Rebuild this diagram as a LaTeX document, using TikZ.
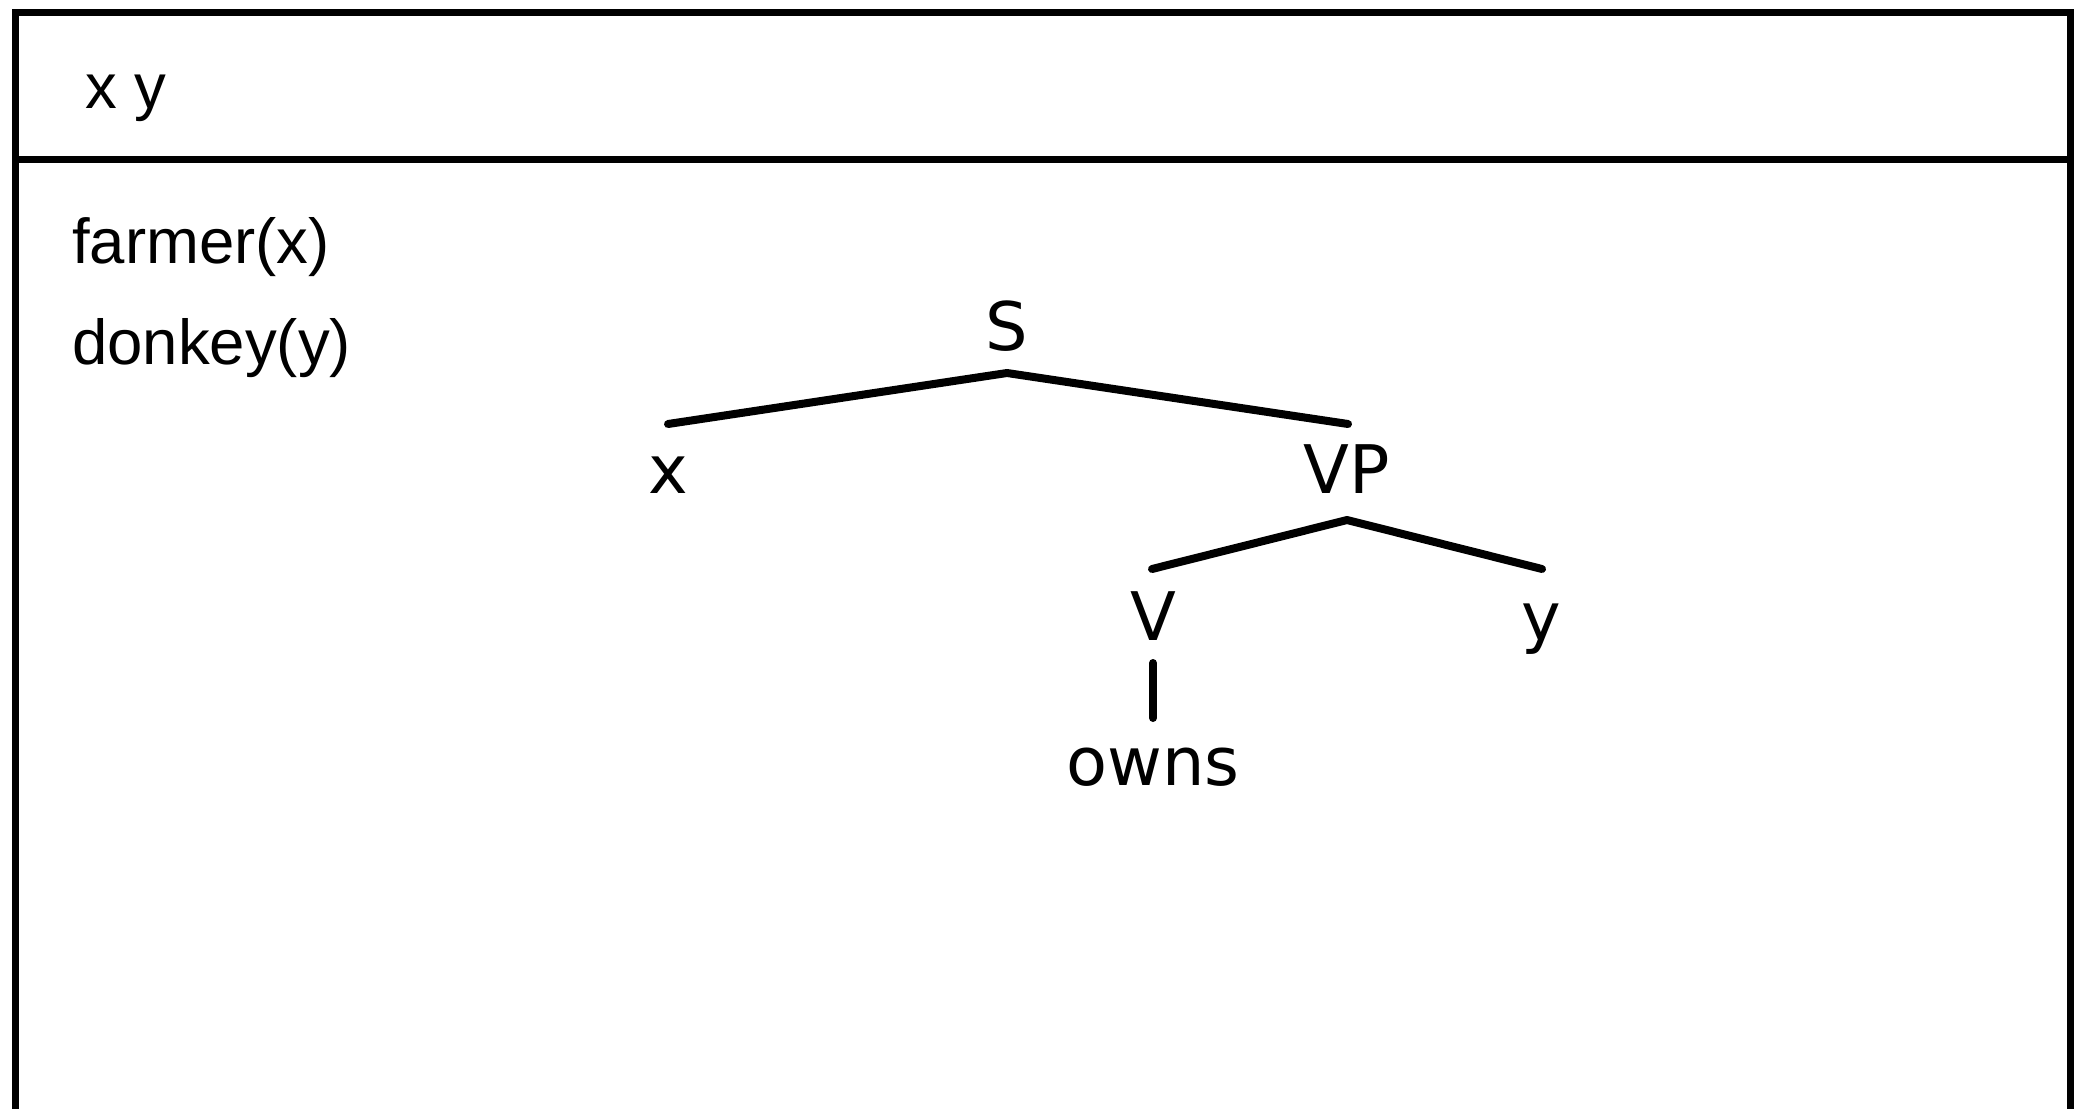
\documentclass[tikz,border=0pt]{standalone}
\usepackage{fontspec}
\setmainfont{Liberation Sans}
\newfontfamily\treefont{DejaVu Sans}
\begin{document}
\begin{tikzpicture}[x=1pt,y=-1pt,
  drstext/.style={inner sep=0pt,anchor=base west,font=\fontsize{63.5}{70}\selectfont},
  treelabel/.style={inner sep=0pt,anchor=base,font=\treefont\fontsize{67}{75}\selectfont},
  branch/.style={line width=8pt,line cap=round,line join=round},
  frame/.style={line width=7pt}]
\useasboundingbox (0,0) rectangle (2074,1108);
\clip (0,0) rectangle (2074,1108);
% DRS box
\draw[frame] (15,1130) -- (15,12.5) -- (2070.5,12.5) -- (2070.5,1130);
\draw[frame] (15,159) -- (2070.5,159);
% DRS contents
\node[drstext] (refs) at (85,108) {x y};
\node[drstext] (cond1) at (72,263) {farmer(x)};
\node[drstext] (cond2) at (72,364) {donkey(y)};
% tree
\node[treelabel] (S) at (1007,350) {S};
\node[treelabel] (X) at (668,493) {x};
\node[treelabel] (VP) at (1347,493) {VP};
\node[treelabel] (V) at (1153,640) {V};
\node[treelabel] (Y) at (1541,640) {y};
\node[treelabel] (owns) at (1153,785) {owns};
\draw[branch] ([yshift=69pt]X.base) -- ([yshift=-23pt]S.base) -- ([yshift=69pt,xshift=1pt]VP.base);
\draw[branch] ([yshift=71pt,xshift=-1pt]V.base) -- ([yshift=-27pt]VP.base) -- ([yshift=71pt,xshift=1pt]Y.base);
\draw[branch] ([yshift=-23pt]V.base) -- ([yshift=67pt]owns.base);
\end{tikzpicture}
\end{document}
